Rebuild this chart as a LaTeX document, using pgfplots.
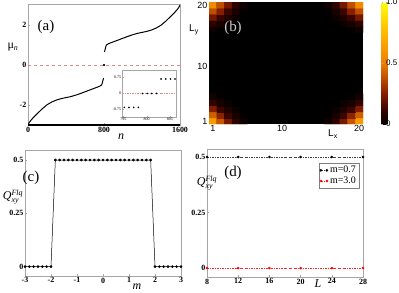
\documentclass[border=0pt]{standalone}
\usepackage{fontspec}
\setmainfont{Liberation Serif}
\setsansfont{Liberation Sans}
\usepackage{pgfplots}
\pgfplotsset{compat=1.18}
\pgfplotsset{
  /pgf/number format/assume math mode=true,
  /pgf/number format/1000 sep={},
  myax/.style={scale only axis, anchor=south west,
    axis line style={gray!70, line width=0.6pt},
    tick style={gray!70, line width=0.4pt}, major tick length=2bp, tick align=inside,
    xtick pos=bottom, ytick pos=left,
    ticklabel style={font=\bfseries\fontsize{8}{9}\selectfont, inner sep=1.5bp},
  },
}
\definecolor{zeroline}{RGB}{212,140,140}
\begin{document}
\begin{tikzpicture}
\useasboundingbox (0bp,0bp) rectangle (399bp,-293bp);

% ---------------- (a)
\begin{axis}[myax, at={(28bp,-125bp)}, width=152bp, height=121bp,
  xmin=0, xmax=1600, ymin=-3, ymax=3.05,
  xtick={0,800,1600}, ytick={-2,0,2}]
\addplot[zeroline, dashed, line width=0.6pt] coordinates {(0,0) (1600,0)};
\addplot[black, line width=1pt] coordinates {(0,-3)(10,-2.9)(25,-2.8)(50,-2.66)(100,-2.42)(150,-2.19)(200,-1.99)(250,-1.85)(300,-1.75)(350,-1.68)(400,-1.63)(450,-1.58)(500,-1.51)(550,-1.43)(600,-1.34)(650,-1.25)(700,-1.16)(750,-1.07)(775,-1.0)(782,-0.9)(790,-0.75)(796,-0.65)};
\addplot[black, line width=1pt] coordinates {(804,0.65)(810,0.75)(818,0.9)(825,1.0)(850,1.07)(900,1.16)(950,1.25)(1000,1.34)(1050,1.43)(1100,1.51)(1150,1.58)(1200,1.63)(1250,1.68)(1300,1.75)(1350,1.85)(1400,1.99)(1450,2.19)(1500,2.42)(1550,2.66)(1575,2.8)(1590,2.9)(1600,3)};
\addplot[only marks, mark=*, mark size=0.5bp, black] coordinates {(798,0)(800,0)(802,0)};
\draw[black, line width=1.1pt] (rel axis cs:0,0) -- (rel axis cs:1,0);
\end{axis}

% inset
\begin{axis}[scale only axis, anchor=south west, at={(122bp,-117bp)}, width=54bp, height=47bp,
  xmin=794.7, xmax=806.3, ymin=-1.1, ymax=1.1,
  xtick={795,800,805}, ytick={-0.75,0,0.75},
  xtick pos=bottom, ytick pos=left,
  axis background/.style={fill=white},
  axis line style={gray!70, line width=0.5pt}, tick style={gray!70, line width=0.3pt},
  major tick length=1.5bp, tick align=inside,
  ticklabel style={font=\fontsize{4}{4}\selectfont, inner sep=0.8bp}]
\addplot[zeroline, dash pattern=on 2bp off 1.2bp on 0.5bp off 1.2bp, line width=0.4pt] coordinates {(794.7,0) (806.3,0)};
\addplot[only marks, mark=*, mark size=0.6bp, black] coordinates {(795.2,-0.65)(796.2,-0.65)(797.2,-0.65)(798.2,-0.65)(799.1,0)(800.1,0)(801.1,0)(802.1,0)(803.1,0.68)(804.1,0.68)(805.1,0.68)(806.1,0.68)};
\end{axis}

% ---------------- (b)
\begin{axis}[scale only axis, anchor=south west, at={(209bp,-124bp)}, width=154bp, height=122bp,
  xmin=0.5, xmax=20.5, ymin=0.5, ymax=20.5,
  xtick={1,10,20}, ytick={1,10,20},
  axis background/.style={fill=black},
  axis line style={draw=none}, major tick length=0pt,
  ticklabel style={font=\sffamily\fontsize{9}{10}\selectfont, inner sep=1.5bp},
  colormap={hotc}{rgb255(0cm)=(0,0,0) rgb255(1cm)=(60,5,0) rgb255(2cm)=(135,30,0) rgb255(4cm)=(238,125,0) rgb255(6cm)=(255,185,0) rgb255(8cm)=(255,255,10)},
  point meta min=0, point meta max=1,
  colorbar,
  colorbar style={at={(parent axis.north east)}, anchor=north west, xshift=10bp,
    scale only axis, width=6bp, height=122bp,
    ytick={0,0.5,1}, yticklabels={0,0.5,1.0},
    axis line style={draw=none}, major tick length=1.5bp, tick style={gray!60},
    yticklabel style={font=\sffamily\fontsize{8}{9}\selectfont, inner sep=0.5bp, xshift=-2bp}}]
\addplot[matrix plot*, mesh/cols=5, point meta=explicit] table[meta=c] {
x y c
1 1 .62
2 1 .40
3 1 .22
4 1 .09
5 1 .03
1 2 .42
2 2 .26
3 2 .12
4 2 .05
5 2 .01
1 3 .24
2 3 .12
3 3 .06
4 3 .02
5 3 0
1 4 .10
2 4 .05
3 4 .02
4 4 0
5 4 0
1 5 .04
2 5 .01
3 5 0
4 5 0
5 5 0
};
\addplot[matrix plot*, mesh/cols=5, point meta=explicit] table[meta=c] {
x y c
16 1 .03
17 1 .09
18 1 .22
19 1 .40
20 1 .62
16 2 .01
17 2 .05
18 2 .12
19 2 .26
20 2 .42
16 3 0
17 3 .02
18 3 .06
19 3 .12
20 3 .24
16 4 0
17 4 0
18 4 .02
19 4 .05
20 4 .10
16 5 0
17 5 0
18 5 0
19 5 .01
20 5 .04
};
\addplot[matrix plot*, mesh/cols=5, point meta=explicit] table[meta=c] {
x y c
1 16 .03
2 16 .01
3 16 0
4 16 0
5 16 0
1 17 .09
2 17 .05
3 17 .02
4 17 0
5 17 0
1 18 .22
2 18 .12
3 18 .06
4 18 .02
5 18 0
1 19 .38
2 19 .25
3 19 .12
4 19 .05
5 19 .01
1 20 .56
2 20 .38
3 20 .22
4 20 .09
5 20 .03
};
\addplot[matrix plot*, mesh/cols=5, point meta=explicit] table[meta=c] {
x y c
16 16 0
17 16 0
18 16 0
19 16 .01
20 16 .03
16 17 0
17 17 0
18 17 .02
19 17 .05
20 17 .09
16 18 0
17 18 .02
18 18 .06
19 18 .12
20 18 .22
16 19 .01
17 19 .05
18 19 .12
19 19 .25
20 19 .38
16 20 .03
17 20 .09
18 20 .22
19 20 .38
20 20 .56
};
\end{axis}

% ---------------- (c)
\begin{axis}[myax, at={(25bp,-276bp)}, width=156bp, height=126bp,
  xmin=-3, xmax=3, ymin=-0.044, ymax=0.547,
  xtick={-3,-2,-1,0,1,2,3}, ytick={0,0.25,0.5}]
\addplot[black, line width=0.5pt, mark=*, mark size=1.1bp] coordinates {
(-3,0)(-2.8333,0)(-2.6667,0)(-2.5,0)(-2.3333,0)(-2.1667,0)(-2,0)
(-1.8333,0.5)(-1.6667,0.5)(-1.5,0.5)(-1.3333,0.5)(-1.1667,0.5)(-1,0.5)(-0.8333,0.5)(-0.6667,0.5)(-0.5,0.5)(-0.3333,0.5)(-0.1667,0.5)(0,0.5)(0.1667,0.5)(0.3333,0.5)(0.5,0.5)(0.6667,0.5)(0.8333,0.5)(1,0.5)(1.1667,0.5)(1.3333,0.5)(1.5,0.5)(1.6667,0.5)(1.8333,0.5)
(2,0)(2.1667,0)(2.3333,0)(2.5,0)(2.6667,0)(2.8333,0)(3,0)};
\end{axis}

% ---------------- (d)
\begin{axis}[myax, at={(207bp,-277bp)}, width=156bp, height=128bp,
  xmin=8, xmax=28, ymin=-0.04, ymax=0.536,
  xtick={8,12,16,20,24,28}, ytick={0,0.25,0.5},
  legend style={at={(0.975,0.89)}, anchor=north east, draw=gray, line width=0.5pt,
    font=\fontsize{10}{10}\selectfont, inner sep=1bp, row sep=-1.5bp},
  legend cell align=left,
  legend image code/.code={\draw[#1] plot coordinates {(0bp,0bp) (6bp,0bp)};}]
\addplot[black!75, line width=0.4pt, dash pattern=on 2bp off 1.2bp on 0.5bp off 1.2bp, mark=*, mark size=1.1bp, mark options={solid, black}] coordinates {(8,0.5)(12,0.5)(16,0.5)(20,0.5)(24,0.5)(28,0.5)};
\addlegendentry{m=0.7}
\addplot[red!85, line width=0.4pt, dash pattern=on 2bp off 1.2bp on 0.5bp off 1.2bp, mark=*, mark size=1.1bp, mark options={solid, red}] coordinates {(8,0)(12,0)(16,0)(20,0)(24,0)(28,0)};
\addlegendentry{m=3.0}
\end{axis}

% ---------------- labels
\node at (46bp,-27bp) {\fontsize{15}{15}\selectfont (a)};
\node at (13bp,-47bp) {\fontsize{12}{12}\selectfont μ\textsubscript{\itshape n}};
\node at (121bp,-137bp) {\fontsize{12}{12}\selectfont\itshape n};
\node[white!80!black] at (233bp,-28bp) {\fontsize{15}{15}\selectfont (b)};
\node at (194bp,-30bp) {\sffamily\fontsize{10}{10}\selectfont L\textsubscript{y}};
\node at (333bp,-134bp) {\sffamily\fontsize{10}{10}\selectfont L\textsubscript{x}};
\node at (31bp,-178bp) {\fontsize{15}{15}\selectfont (c)};
\node at (13bp,-197bp) {\fontsize{12}{12}\selectfont $\mathit{Q}^{\mathit{Flq}}_{\mathit{xy}}$};
\node at (137bp,-287bp) {\fontsize{12}{12}\selectfont\itshape m};
\node at (233bp,-173bp) {\fontsize{15}{15}\selectfont (d)};
\node at (207bp,-183bp) {\fontsize{12}{12}\selectfont $\mathit{Q}^{\mathit{Flq}}_{\mathit{xy}}$};
\node at (318bp,-284bp) {\fontsize{12}{12}\selectfont\itshape L};
\end{tikzpicture}
\end{document}
